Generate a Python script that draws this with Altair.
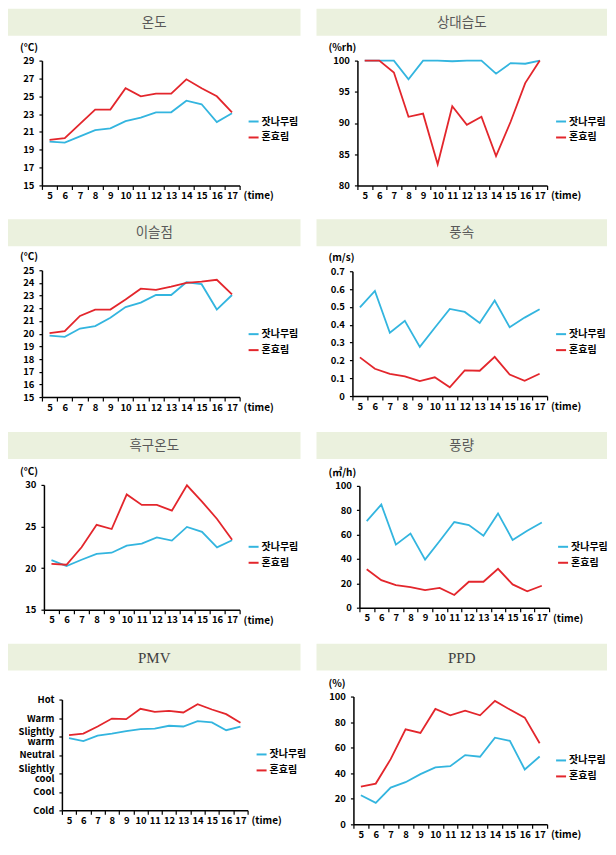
import json
import altair as alt
import pandas as pd

# ---------------- data ----------------
times = [5, 6, 7, 8, 9, 10, 11, 12, 13, 14, 15, 16, 17]
series_names = ["잣나무림", "혼효림"]
series_colors = ["#33B5DF", "#E3262C"]

temp_pine = [19.9, 19.8, 20.5, 21.2, 21.4, 22.2, 22.6, 23.2, 23.2, 24.5, 24.1, 22.1, 23.1]
temp_mixed = [20.1, 20.3, 21.9, 23.5, 23.5, 25.9, 25.0, 25.3, 25.3, 26.9, 25.9, 25.0, 23.2]
rh_pine = [100, 100, 100, 97.0, 100, 100, 99.9, 100, 100, 97.9, 99.6, 99.5, 100]
rh_mixed = [100, 100, 98.1, 91.0, 91.5, 83.4, 92.7, 89.7, 91.0, 84.7, 90.2, 96.4, 100]
dew_pine = [19.85, 19.75, 20.4, 20.6, 21.25, 22.1, 22.45, 23.05, 23.05, 24.05, 23.9, 21.9, 23.05]
dew_mixed = [20.05, 20.2, 21.4, 21.9, 21.9, 22.7, 23.55, 23.45, 23.7, 24.0, 24.1, 24.25, 23.1]
ws_pine = [0.497, 0.590, 0.355, 0.422, 0.276, 0.383, 0.489, 0.472, 0.410, 0.536, 0.386, 0.440, 0.487]
ws_mixed = [0.217, 0.153, 0.125, 0.110, 0.084, 0.105, 0.049, 0.144, 0.142, 0.220, 0.121, 0.086, 0.125]
globe_pine = [20.95, 20.25, 21.0, 21.7, 21.85, 22.7, 22.95, 23.7, 23.3, 24.95, 24.35, 22.5, 23.35]
globe_mixed = [20.5, 20.4, 22.5, 25.2, 24.7, 28.85, 27.6, 27.6, 26.9, 29.95, 28.0, 25.9, 23.4]
flow_pine = [71.1, 84.7, 51.8, 60.8, 39.5, 54.8, 70.3, 67.8, 59.1, 77.4, 55.6, 63.2, 70.0]
flow_mixed = [31.6, 22.6, 18.5, 16.9, 14.4, 16.3, 10.4, 21.3, 21.3, 31.9, 19.1, 13.4, 18.0]
pmv_pine = [0.91, 0.75, 1.05, 1.16, 1.29, 1.40, 1.43, 1.58, 1.54, 1.83, 1.76, 1.34, 1.54]
pmv_mixed = [1.07, 1.16, 1.54, 1.97, 1.94, 2.50, 2.33, 2.39, 2.30, 2.75, 2.46, 2.21, 1.74]
ppd_pine = [22.8, 16.8, 28.8, 33.0, 39.3, 44.5, 45.5, 54.2, 52.9, 67.8, 65.4, 42.9, 53.1]
ppd_mixed = [29.6, 31.9, 51.0, 74.3, 71.5, 90.3, 85.3, 89.0, 85.3, 96.6, 89.8, 83.5, 63.4]

ticks_temp = [15, 17, 19, 21, 23, 25, 27, 29]
ticks_rh = [80, 85, 90, 95, 100]
ticks_dew = [15, 16, 17, 18, 19, 20, 21, 22, 23, 24, 25]
ticks_ws = [0, 0.1, 0.2, 0.3, 0.4, 0.5, 0.6, 0.7]
ticks_globe = [15, 20, 25, 30]
ticks_flow = [0, 20, 40, 60, 80, 100]
ticks_pmv = [-3, -2, -1, 0, 1, 2, 3]
pmv_labels = ["Cold", "Cool", "Slightly|cool", "Neutral", "Slightly|warm", "Warm", "Hot"]
ticks_ppd = [0, 20, 40, 60, 80, 100]
time_label = "(time)"

FONT = "Noto Sans CJK KR"
SERIF = "Liberation Serif"
BOX = "#EBF1DE"


def panel(title, unit, pine, mixed, ticks, w, h, ox, oy, fw, fh, bw, legy,
          serif=False, fmt=None, label_expr=None):
    """Each panel's view covers its whole cell; the plot sits at (ox, oy) via scale ranges."""
    df = pd.DataFrame({
        "time": times * 2,
        "value": pine + mixed,
        "series": [series_names[0]] * len(times) + [series_names[1]] * len(times),
    })
    one = alt.Data(values=[{}])
    layers = []
    layers.append(alt.Chart(one).mark_rect(fill=BOX).encode(
        x=alt.value(0), x2=alt.value(bw), y=alt.value(0), y2=alt.value(27)))
    layers.append(alt.Chart(one).mark_text(
        font=SERIF if serif else FONT, fontSize=15 if serif else 13.5,
        color="#404040" if serif else "#595959",
        align="center", baseline="middle").encode(
        x=alt.value(bw / 2), y=alt.value(14), text=alt.value(title)))
    if unit:
        layers.append(alt.Chart(one).mark_text(
            font=FONT, fontSize=10, fontWeight="bold", color="black",
            align="left", baseline="middle").encode(
            x=alt.value(12), y=alt.value(oy - 13), text=alt.value(unit)))
    layers.append(alt.Chart(one).mark_text(
        font=FONT, fontSize=10, fontWeight="bold", color="black",
        align="left", baseline="middle").encode(
        x=alt.value(ox + w + 4), y=alt.value(oy + h + 11), text=alt.value(time_label)))

    yargs = dict(values=ticks, title=None, labelOverlap=False, minExtent=0, offset=-ox)
    if fmt:
        yargs["format"] = fmt
    if label_expr:
        yargs["labelExpr"] = label_expr
        yargs["labelLineHeight"] = 10
        yargs["labelOffset"] = {"condition": {"test": "abs(datum.value) == 1", "value": -5},
                                "value": 0}
    lines = alt.Chart(df).mark_line(strokeWidth=1.8).encode(
        x=alt.X("time:O",
                scale=alt.Scale(type="band", paddingInner=0, paddingOuter=0,
                                range=[ox, ox + w]),
                axis=alt.Axis(title=None, tickBand="extent", labelAngle=0,
                              labelOverlap=False, minExtent=0, offset=oy + h - fh)),
        y=alt.Y("value:Q",
                scale=alt.Scale(domain=[ticks[0], ticks[-1]], nice=False, zero=False,
                                range=[oy + h, oy]),
                axis=alt.Axis(**yargs)),
        color=alt.Color("series:N",
                        scale=alt.Scale(domain=series_names, range=series_colors),
                        legend=alt.Legend(orient="none", legendX=ox + w + 8,
                                          legendY=oy + legy - 6,
                                          title=None, symbolType="stroke", symbolSize=100,
                                          symbolStrokeWidth=2, labelFont=FONT,
                                          labelFontSize=10, labelFontWeight="bold",
                                          labelColor="black", rowPadding=5,
                                          labelOffset=2, padding=0)),
    )
    layers.append(lines)
    return alt.layer(*layers).properties(width=fw, height=fh)


C1W, C2W = 309, 291
p1 = panel("온도", "(°C)", temp_pine, temp_mixed, ticks_temp, 198, 125, 34, 52, C1W, 211, 293, 61)
p2 = panel("상대습도", "(%rh)", rh_pine, rh_mixed, ticks_rh, 190, 125, 41, 52, C2W, 211, 291, 61)
p3 = panel("이슬점", "(°C)", dew_pine, dew_mixed, ticks_dew, 198, 127, 34, 51, C1W, 213, 293, 64)
p4 = panel("풍속", "(m/s)", ws_pine, ws_mixed, ticks_ws, 195, 125, 36, 52, C2W, 213, 291, 63, fmt=".1~f")
p5 = panel("흑구온도", "(°C)", globe_pine, globe_mixed, ticks_globe, 196, 125, 36, 53, C1W, 212, 293, 62)
p6 = panel("풍량", "(㎥/h)", flow_pine, flow_mixed, ticks_flow, 190, 122, 43, 54, C2W, 212, 291, 61)
pmv_expr = "split(" + json.dumps(pmv_labels) + "[datum.value + 3], '|')"
p7 = panel("PMV", None, pmv_pine, pmv_mixed, ticks_pmv, 186, 111, 54, 56, C1W, 200, 293, 55,
           serif=True, label_expr=pmv_expr)
p8 = panel("PPD", "(%)", ppd_pine, ppd_mixed, ticks_ppd, 194, 128, 37, 53, C2W, 200, 291, 64, serif=True)

chart = (
    alt.concat(p1, p2, p3, p4, p5, p6, p7, p8, columns=2, spacing=0)
    .resolve_scale(color="independent", x="independent", y="independent")
    .resolve_legend(color="independent")
    .properties(padding=0, background="white")
    .configure_view(stroke=None)
    .configure_axis(grid=False, labelFont=FONT, labelFontWeight="bold", labelFontSize=9.5,
                    labelColor="black", domainColor="black",
                    tickColor="black", domainWidth=1.5, tickWidth=1.2, zindex=1)
    .configure_axisX(tickSize=4, labelPadding=1)
    .configure_axisY(tickSize=3, labelPadding=5)
)

chart.save("out.html", embed_options={"renderer": "svg", "actions": False})
